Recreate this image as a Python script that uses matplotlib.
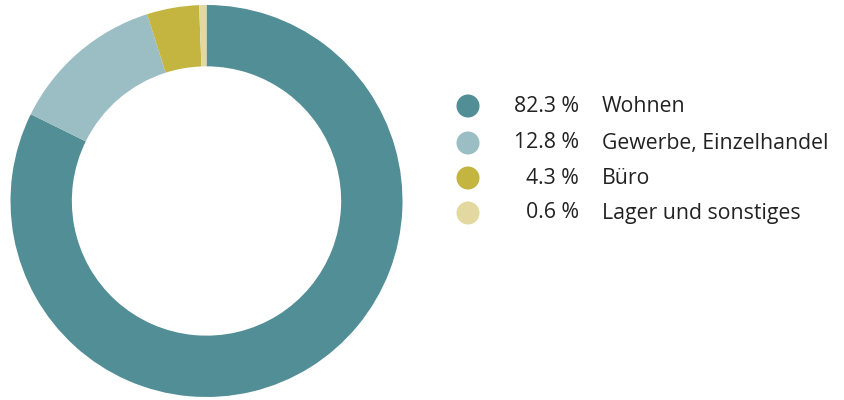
import matplotlib.pyplot as plt

labels = ['Wohnen', 'Gewerbe, Einzelhandel', 'Büro', 'Lager und sonstiges']
shares = [82.3, 12.8, 4.3, 0.6]
colors = ['#518e96', '#9bbec5', '#c4b440', '#e3d9a0']

plt.rcParams['font.family'] = ['Open Sans', 'DejaVu Sans']

fig = plt.figure(figsize=(8.44, 4.0), dpi=100)

# donut
ax = fig.add_axes([10 / 844, 3 / 400, 393 / 844, 392 / 400])
ax.pie(shares, colors=colors, startangle=90, counterclock=False, radius=1,
       wedgeprops=dict(width=0.313, linewidth=0))
ax.set_xlim(-1, 1)
ax.set_ylim(-1, 1)
ax.axis('off')

# legend in pixel coordinates
lg = fig.add_axes([0, 0, 1, 1])
lg.set_xlim(0, 844)
lg.set_ylim(400, 0)
lg.axis('off')
rows = [106, 143, 178, 213]
for y, lab, val, c in zip(rows, labels, shares, colors):
    lg.scatter([468], [y], s=275, color=c, edgecolors='none')
    lg.text(579, y, f'{val:.1f} %', ha='right', va='center', fontsize=15.3, color='#222222')
    lg.text(602, y, lab, ha='left', va='center', fontsize=15.3, color='#222222')

plt.savefig('out.png', dpi=100)
